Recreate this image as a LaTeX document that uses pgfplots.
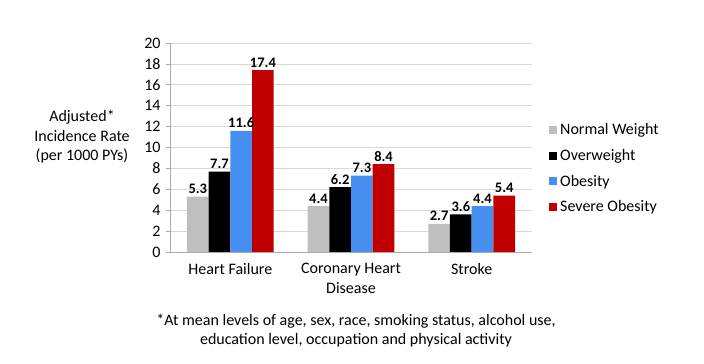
\documentclass[border=0pt]{standalone}
\usepackage{pgfplots}
\pgfplotsset{compat=1.18}
\usepackage{fontspec}
\setmainfont{Carlito}
\definecolor{cgray}{RGB}{191,191,191}
\definecolor{cblue}{RGB}{70,142,240}
\definecolor{cred}{RGB}{192,0,0}
\definecolor{gridc}{RGB}{217,217,217}
\definecolor{axc}{RGB}{170,170,170}
\begin{document}
\begin{tikzpicture}
\useasboundingbox (0,0) rectangle (704bp,364bp);
\begin{axis}[
  at={(170bp,112bp)}, anchor=south west,
  scale only axis, width=362bp, height=209bp,
  xmin=-0.5, xmax=2.5, ymin=0, ymax=20,
  ybar=0pt, bar width=21.7bp,
  /pgf/number format/assume math mode=true,
  ytick={0,2,...,20},
  ymajorgrids, grid style={gridc, line width=0.8pt},
  axis line style={axc, line width=0.8pt},
  axis x line*=bottom, axis y line*=left,
  tick align=outside,
  ytick style={axc, line width=0.8pt}, major tick length=4bp,
  yticklabel style={font=\fontsize{16bp}{16bp}\selectfont, xshift=-2bp},
  xtick={0,1,2},
  xticklabels={Heart Failure, {Coronary Heart\\Disease}, Stroke},
  xticklabel style={font=\fontsize{16bp}{19.5bp}\selectfont, align=center, yshift=-4bp},
  xtick style={draw=none},
  extra x ticks={-0.5,0.5,1.5,2.5},
  extra x tick labels={},
  extra x tick style={grid=none, tick style={axc, line width=0.8pt, draw=axc}},
  nodes near coords,
  nodes near coords style={font=\fontsize{14.5bp}{14.5bp}\selectfont\bfseries, /pgf/number format/fixed, /pgf/number format/fixed zerofill, /pgf/number format/precision=1, inner sep=2.5bp},
  legend style={draw=none, fill=none, at={(1.0,0.40)}, anchor=west, xshift=14bp,
    font=\fontsize{16bp}{16bp}\selectfont, row sep=9bp, legend cell align=left,
    nodes={inner xsep=3bp}},
  legend image code/.code={\fill[#1] (0bp,-4bp) rectangle (8bp,4bp);},
]
\addplot[fill=cgray, draw=none] coordinates {(0,5.3) (1,4.4) (2,2.7)};
\addplot[fill=black, draw=none] coordinates {(0,7.7) (1,6.2) (2,3.6)};
\addplot[fill=cblue, draw=none] coordinates {(0,11.6) (1,7.3) (2,4.4)};
\addplot[fill=cred, draw=none] coordinates {(0,17.4) (1,8.4) (2,5.4)};
\legend{Normal Weight, Overweight, Obesity, Severe Obesity}
\end{axis}
\node[align=center, font=\fontsize{16bp}{19.5bp}\selectfont] at (82bp,227bp) {Adjusted*\\Incidence Rate\\(per 1000 PYs)};
\node[align=center, font=\fontsize{16bp}{19bp}\selectfont] at (356bp,33bp) {*At mean levels of age, sex, race, smoking status, alcohol use,\\education level, occupation and physical activity};
\end{tikzpicture}
\end{document}
